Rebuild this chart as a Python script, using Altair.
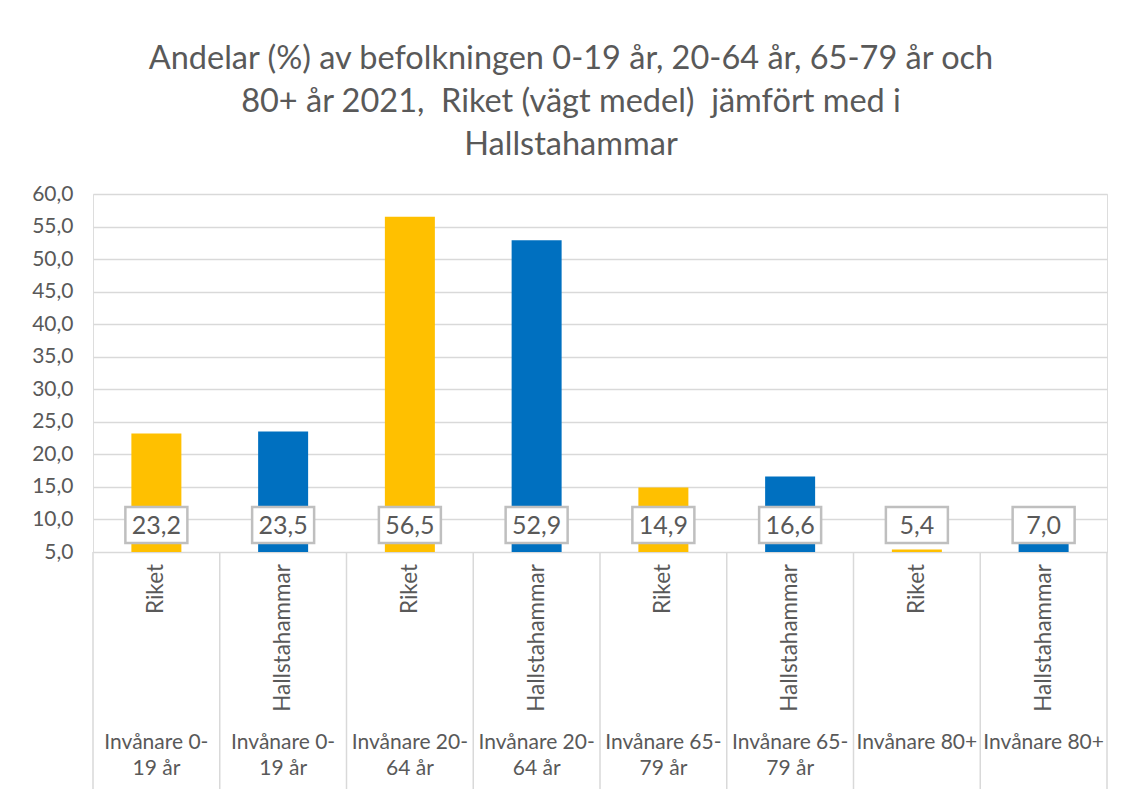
import altair as alt
import pandas as pd

areas = ["Riket", "Hallstahammar", "Riket", "Hallstahammar",
         "Riket", "Hallstahammar", "Riket", "Hallstahammar"]
groups = ["Invånare 0-\n19 år", "Invånare 0-\n19 år",
          "Invånare 20-\n64 år", "Invånare 20-\n64 år",
          "Invånare 65-\n79 år", "Invånare 65-\n79 år",
          "Invånare 80+", "Invånare 80+"]
values = [23.2, 23.5, 56.5, 52.9, 14.9, 16.6, 5.4, 7.0]
y_ticks = [5, 10, 15, 20, 25, 30, 35, 40, 45, 50, 55, 60]
title_lines = ["Andelar (%) av befolkningen 0-19 år, 20-64 år, 65-79 år och",
               "80+ år 2021, \u00a0Riket (vägt medel) \u00a0jämfört med i",
               "Hallstahammar"]

W, H = 1014, 358
FONT = "Lato"
GRAY = "#595959"
LINE = "#d9d9d9"

df = pd.DataFrame({
    "key": [str(i) for i in range(len(values))],
    "area": areas,
    "group": groups,
    "value": values,
    "label": [f"{v:.1f}".replace(".", ",") for v in values],
})

xscale = alt.Scale(paddingInner=0, paddingOuter=0)
x = alt.X("key:N", axis=None, sort=None, scale=xscale)
base = alt.Chart(df)

bars = base.mark_bar(size=50).encode(
    x=x,
    y=alt.Y("value:Q",
            scale=alt.Scale(domain=[5, 60], nice=False, zero=False),
            axis=alt.Axis(values=y_ticks, title=None, ticks=False, domain=False,
                          labelExpr="replace(format(datum.value, '.1f'), '.', ',')",
                          labelFontSize=21, labelColor=GRAY, labelFont=FONT,
                          labelPadding=20, gridColor=LINE, gridWidth=1.5)),
    y2=alt.datum(5),
    color=alt.Color("area:N",
                    scale=alt.Scale(domain=["Riket", "Hallstahammar"],
                                    range=["#FFC000", "#0070C0"]),
                    legend=None),
)

boxes = base.mark_point(
    shape="M-1,-0.58L1,-0.58L1,0.58L-1,0.58Z", size=3844, filled=True,
    fill="white", stroke="#bfbfbf", strokeWidth=2.5, opacity=1,
).encode(x=x, y=alt.value(331))

labels = base.mark_text(fontSize=25, color=GRAY, font=FONT, dy=1).encode(
    x=x, y=alt.value(331), text="label:N")

dividers = base.mark_rule(color=LINE, strokeWidth=1.5).encode(
    x=alt.X("key:N", axis=None, sort=None, scale=xscale, bandPosition=0),
    y=alt.value(H), y2=alt.value(H + 240))

last_div = alt.Chart(pd.DataFrame({"k": [0]})).mark_rule(color=LINE, strokeWidth=1.5).encode(
    x=alt.value(W), y=alt.value(H), y2=alt.value(H + 240))

area_text = base.mark_text(angle=270, align="right", baseline="middle",
                           fontSize=22.5, color=GRAY, font=FONT).encode(
    x=x, y=alt.value(H + 12), text="area:N")

group_text = base.mark_text(baseline="middle", lineBreak="\n", lineHeight=26,
                            fontSize=21, color=GRAY, font=FONT).encode(
    x=x, y=alt.value(H + 191), text="group:N")

chart = alt.layer(
    bars, dividers, last_div, boxes, labels, area_text, group_text
).properties(
    width=W, height=H,
    autosize=alt.AutoSizeParams(type="none"),
    padding={"left": 85, "top": 186, "right": 7, "bottom": 237},
    title=alt.TitleParams(text=title_lines, fontSize=32.5, font=FONT, color=GRAY,
                          fontWeight="normal", lineHeight=43, anchor="middle",
                          frame="group", dx=-29, offset=22),
).configure_view(stroke=None).configure(background="white")

chart.save("out.html", embed_options={"renderer": "svg", "actions": False})
